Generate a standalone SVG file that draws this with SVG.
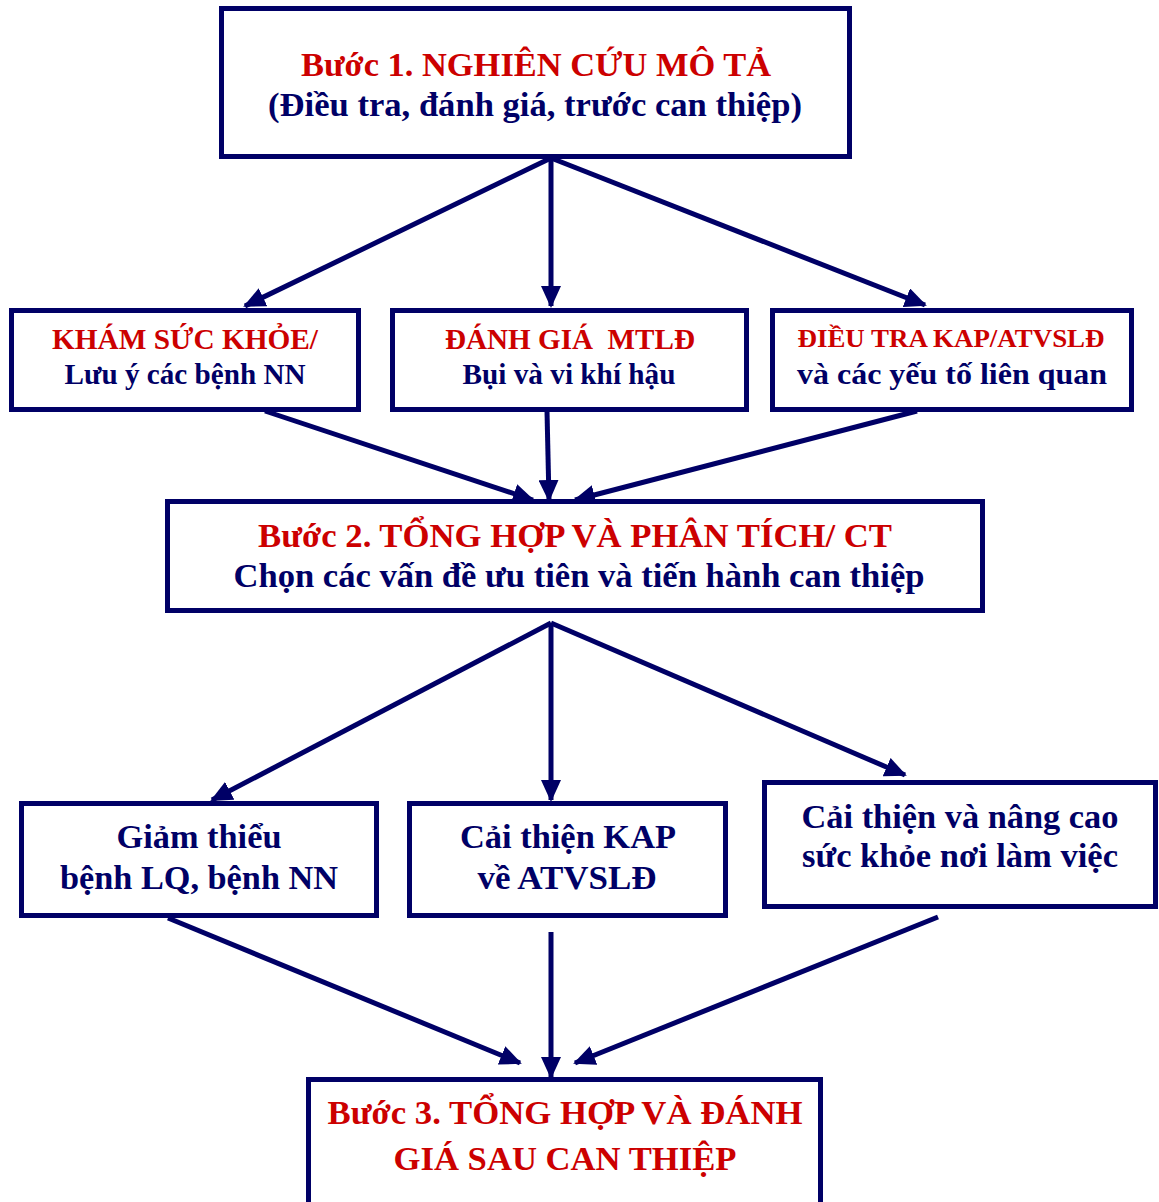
<svg xmlns="http://www.w3.org/2000/svg" width="1159" height="1202" viewBox="0 0 1159 1202">
<style>
.box{fill:#fff;stroke:#000066;stroke-width:5}
.t{font-family:"Liberation Serif","Times New Roman",serif;font-weight:bold;text-anchor:middle}
.r{fill:#cc0000}
.b{fill:#000066}
.c{stroke:#000066;stroke-width:5;fill:none;marker-end:url(#ah)}
</style>
<defs>
<marker id="ah" markerUnits="userSpaceOnUse" markerWidth="24" markerHeight="20" refX="20" refY="10" orient="auto">
<path d="M0,0 L22,10 L0,20 Z" fill="#000066"/>
</marker>
</defs>
<rect width="1159" height="1202" fill="#fff"/>
<g id="connectors">
<line class="c" x1="551" y1="158" x2="245" y2="306"/>
<line class="c" x1="551" y1="158" x2="551" y2="306"/>
<line class="c" x1="551" y1="158" x2="925" y2="305"/>
<line class="c" x1="265" y1="411" x2="533" y2="500"/>
<line class="c" x1="547" y1="411" x2="549" y2="500"/>
<line class="c" x1="917" y1="411" x2="575" y2="500"/>
<line class="c" x1="551" y1="623" x2="212" y2="800"/>
<line class="c" x1="551" y1="623" x2="551" y2="800"/>
<line class="c" x1="551" y1="623" x2="905" y2="775"/>
<line class="c" x1="168" y1="918" x2="520" y2="1063"/>
<line class="c" x1="551" y1="932" x2="551" y2="1077"/>
<line class="c" x1="938" y1="917" x2="575" y2="1063"/>
</g>
<g id="step1">
<rect class="box" x="221.5" y="8.5" width="628" height="148"/>
<text class="t r" x="536" y="76" font-size="34" textLength="470" lengthAdjust="spacingAndGlyphs">Bước 1. NGHIÊN CỨU MÔ TẢ</text>
<text class="t b" x="535" y="116" font-size="34" textLength="534" lengthAdjust="spacingAndGlyphs">(Điều tra, đánh giá, trước can thiệp)</text>
</g>
<g id="kham">
<rect class="box" x="11.5" y="310.5" width="347" height="99"/>
<text class="t r" x="185" y="349" font-size="29" textLength="266" lengthAdjust="spacingAndGlyphs">KHÁM SỨC KHỎE/</text>
<text class="t b" x="185" y="384" font-size="29" textLength="241" lengthAdjust="spacingAndGlyphs">Lưu ý các bệnh NN</text>
</g>
<g id="danhgia">
<rect class="box" x="392.5" y="310.5" width="354" height="99"/>
<text class="t r" x="570" y="349" font-size="29" textLength="250" lengthAdjust="spacingAndGlyphs" xml:space="preserve">ĐÁNH GIÁ  MTLĐ</text>
<text class="t b" x="569" y="384" font-size="29" textLength="213" lengthAdjust="spacingAndGlyphs">Bụi và vi khí hậu</text>
</g>
<g id="dieutra">
<rect class="box" x="772.5" y="310.5" width="359" height="99"/>
<text class="t r" x="951" y="347" font-size="26" textLength="307" lengthAdjust="spacingAndGlyphs">ĐIỀU TRA KAP/ATVSLĐ</text>
<text class="t b" x="952" y="384" font-size="29" textLength="310" lengthAdjust="spacingAndGlyphs">và các yếu tố liên quan</text>
</g>
<g id="step2">
<rect class="box" x="167.5" y="501.5" width="815" height="109"/>
<text class="t r" x="575" y="547" font-size="33" textLength="634" lengthAdjust="spacingAndGlyphs">Bước 2. TỔNG HỢP VÀ PHÂN TÍCH/ CT</text>
<text class="t b" x="579" y="587" font-size="33" textLength="691" lengthAdjust="spacingAndGlyphs">Chọn các vấn đề ưu tiên và tiến hành can thiệp</text>
</g>
<g id="giamthieu">
<rect class="box" x="21.5" y="803.5" width="355" height="112"/>
<text class="t b" x="199" y="848" font-size="33" textLength="165" lengthAdjust="spacingAndGlyphs">Giảm thiểu</text>
<text class="t b" x="199" y="889" font-size="33" textLength="278" lengthAdjust="spacingAndGlyphs">bệnh LQ, bệnh NN</text>
</g>
<g id="caithienkap">
<rect class="box" x="409.5" y="803.5" width="316" height="112"/>
<text class="t b" x="568" y="848" font-size="33" textLength="216" lengthAdjust="spacingAndGlyphs">Cải thiện KAP</text>
<text class="t b" x="567" y="889" font-size="33" textLength="179" lengthAdjust="spacingAndGlyphs">về ATVSLĐ</text>
</g>
<g id="suckhoe">
<rect class="box" x="764.5" y="782.5" width="391" height="124"/>
<text class="t b" x="960" y="828" font-size="33" textLength="317" lengthAdjust="spacingAndGlyphs">Cải thiện và nâng cao</text>
<text class="t b" x="960" y="867" font-size="33" textLength="316" lengthAdjust="spacingAndGlyphs">sức khỏe nơi làm việc</text>
</g>
<g id="step3">
<rect class="box" x="308.5" y="1079.5" width="512" height="130"/>
<text class="t r" x="565" y="1124" font-size="34" textLength="475" lengthAdjust="spacingAndGlyphs">Bước 3. TỔNG HỢP VÀ ĐÁNH</text>
<text class="t r" x="565" y="1170" font-size="34" textLength="343" lengthAdjust="spacingAndGlyphs">GIÁ SAU CAN THIỆP</text>
</g>
</svg>
